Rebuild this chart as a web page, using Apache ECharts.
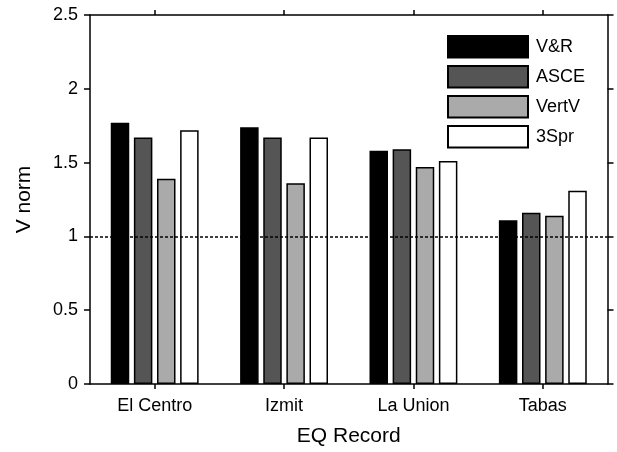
<!DOCTYPE html>
<html>
<head>
<meta charset="utf-8">
<script src="https://cdn.jsdelivr.net/npm/echarts@6/dist/echarts.min.js"></script>
<style>
  html, body { margin: 0; padding: 0; background: #fff; }
  #chart { width: 617px; height: 452px; }
</style>
</head>
<body>
<div id="chart"></div>
<script>
// Normalized shear demand per earthquake record and model
const categories = ['El Centro', 'Izmit', 'La Union', 'Tabas'];
const seriesNames = ['V&R', 'ASCE', 'VertV', '3Spr'];
const vr    = [1.77, 1.74, 1.58, 1.11];
const asce  = [1.67, 1.67, 1.59, 1.16];
const vertV = [1.39, 1.36, 1.47, 1.14];
const spr3  = [1.72, 1.67, 1.51, 1.31];
const fills = ['#000000', '#555555', '#aaaaaa', '#ffffff'];
const referenceLevel = 1;

const FONT = '"Liberation Sans", Arial, Helvetica, sans-serif';
const values = [vr, asce, vertV, spr3];

const chart = echarts.init(document.getElementById('chart'));

const baseX = {
  type: 'category',
  data: categories,
  boundaryGap: true,
  axisLine: { show: true, onZero: false, lineStyle: { color: '#000', width: 1.5 } },
  axisTick: { show: true, alignWithLabel: true, inside: false, length: 5, lineStyle: { color: '#000', width: 1.5 } },
  splitLine: { show: false }
};
const baseY = {
  type: 'value',
  min: 0,
  max: 2.5,
  interval: 0.5,
  axisLine: { show: true, onZero: false, lineStyle: { color: '#000', width: 1.5 } },
  axisTick: { show: true, inside: false, length: 6, lineStyle: { color: '#000', width: 1.5 } },
  splitLine: { show: false }
};

const series = seriesNames.map((name, i) => ({
  name: name,
  type: 'bar',
  data: values[i],
  barWidth: 18.5,
  barGap: '25%',
  itemStyle: { color: fills[i], borderColor: '#000', borderWidth: 1.5 },
  emphasis: { disabled: true },
  animation: false
}));

// dotted reference line at V norm = 1, drawn above the bars
series[series.length - 1].markLine = {
  silent: true,
  symbol: 'none',
  label: { show: false },
  lineStyle: { color: '#000', width: 1.5, type: [3, 2] },
  data: [{ yAxis: referenceLevel }]
};

chart.setOption({
  animation: false,
  backgroundColor: '#fff',
  textStyle: { fontFamily: FONT },
  grid: { left: 90, right: 9.5, top: 15, bottom: 64, containLabel: false },
  legend: {
    orient: 'vertical',
    left: 442,
    top: 30,
    itemWidth: 80,
    itemHeight: 21.5,
    itemGap: 6.5,
    icon: 'rect',
    textStyle: { fontFamily: FONT, fontSize: 18, color: '#000', padding: [0, 0, 0, 3] },
    data: seriesNames
  },
  xAxis: [
    Object.assign({}, baseX, {
      position: 'bottom',
      name: 'EQ Record',
      nameLocation: 'middle',
      nameGap: 42,
      nameTextStyle: { fontFamily: FONT, fontSize: 21, color: '#000' },
      axisLabel: { fontFamily: FONT, fontSize: 18, color: '#000', margin: 13 }
    }),
    Object.assign({}, baseX, {
      position: 'top',
      axisLabel: { show: false }
    })
  ],
  yAxis: [
    Object.assign({}, baseY, {
      position: 'left',
      name: 'V norm',
      nameLocation: 'middle',
      nameGap: 55,
      nameTextStyle: { fontFamily: FONT, fontSize: 21, color: '#000' },
      axisLabel: { fontFamily: FONT, fontSize: 18, color: '#000', margin: 12 }
    }),
    Object.assign({}, baseY, {
      position: 'right',
      axisLabel: { show: false }
    })
  ],
  series: series
});
</script>
</body>
</html>
